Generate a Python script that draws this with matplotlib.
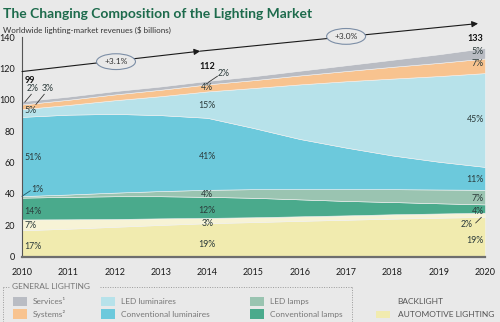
import matplotlib
matplotlib.use("Agg")
import matplotlib.pyplot as plt

plt.rcParams['font.family'] = ['Lato', 'DejaVu Sans']

# 연도별 세계 조명 시장 매출 (단위: 10억 달러)
years = [2010, 2011, 2012, 2013, 2014, 2015, 2016, 2017, 2018, 2019, 2020]
automotive = [16.8, 17.8, 19.0, 20.2, 21.3, 22.0, 22.8, 23.5, 24.2, 24.8, 25.3]
backlight = [6.9, 6.0, 5.0, 4.2, 3.4, 3.1, 2.9, 2.8, 2.8, 2.7, 2.7]
conv_lamps = [13.9, 14.3, 14.5, 14.1, 13.4, 12.4, 10.8, 9.2, 7.8, 6.5, 5.3]
led_lamps = [1.0, 1.5, 2.3, 3.3, 4.5, 5.5, 6.5, 7.5, 8.2, 8.8, 9.3]
conv_lum = [50.5, 50.9, 50.2, 48.4, 45.9, 39.0, 32.0, 26.5, 21.5, 17.7, 14.6]
led_lum = [4.9, 6.2, 8.7, 12.1, 16.8, 25.5, 34.8, 42.3, 49.0, 54.6, 59.8]
systems = [3.0, 3.3, 3.7, 4.1, 4.5, 5.0, 5.7, 6.5, 7.5, 8.4, 9.3]
services = [2.0, 2.0, 2.1, 2.1, 2.2, 2.5, 3.0, 3.7, 4.5, 5.5, 6.7]

# 라벨이 붙는 연도의 총액과 비중(%)
label_years = [2010, 2014, 2020]
totals = [99, 112, 133]
pct_services = [2, 2, 5]
pct_systems = [3, 4, 7]
pct_led_lum = [5, 15, 45]
pct_conv_lum = [51, 41, 11]
pct_led_lamps = [1, 4, 7]
pct_conv_lamps = [14, 12, 4]
pct_backlight = [7, 3, 2]
pct_automotive = [17, 19, 19]

growth_labels = ['+3.1%', '+3.0%']

colors = ['#f1ebaf', '#f7f3d6', '#4aaa8c', '#9ac4b1',
          '#6cc9dc', '#b7e2ea', '#f8c38f', '#b9bcc3']
bg = '#e9e9e9'
txt = '#2b3a3a'

fig = plt.figure(figsize=(5.0, 3.22), dpi=100, facecolor=bg)
ax = fig.add_axes([0.044, 0.203, 0.926, 0.682], facecolor=bg)

ax.stackplot(years, automotive, backlight, conv_lamps, led_lamps,
             conv_lum, led_lum, systems, services,
             colors=colors, edgecolor='#f2f2f2', linewidth=0.4)

ax.set_xlim(2010, 2020)
ax.set_ylim(0, 140)
ax.set_xticks(years)
ax.set_yticks([0, 20, 40, 60, 80, 100, 120, 140])
ax.tick_params(length=0, labelsize=6.5, colors='#1a1a1a')
ax.tick_params(axis='x', pad=8)
ax.tick_params(axis='y', pad=5)
for s in ['top', 'right']:
    ax.spines[s].set_visible(False)
ax.spines['left'].set_color('#555555')
ax.spines['left'].set_linewidth(0.8)
ax.spines['bottom'].set_color('#6e6e6e')
ax.spines['bottom'].set_linewidth(1.6)

fs = 6.3
# 2010 라벨 (왼쪽 정렬)
x0 = 2010.05
ax.text(x0, 112, f'{totals[0]}', fontsize=6.5, fontweight='bold', color='#111', ha='left', va='center')
ax.text(2010.24, 107, f'{pct_services[0]}%', fontsize=fs, color=txt, ha='center', va='center')
ax.text(2010.55, 107.5, f'{pct_systems[0]}%', fontsize=fs, color=txt, ha='center', va='center')
ax.plot([2010.06, 2010.2], [98.5, 103.5], color='#333', lw=0.6, clip_on=False)
ax.plot([2010.3, 2010.48], [97.0, 103.5], color='#333', lw=0.6, clip_on=False)
ax.text(x0, 93, f'{pct_led_lum[0]}%', fontsize=fs, color=txt, ha='left', va='center')
ax.text(x0, 63, f'{pct_conv_lum[0]}%', fontsize=fs, color=txt, ha='left', va='center')
ax.text(2010.2, 43, f'{pct_led_lamps[0]}%', fontsize=fs, color=txt, ha='left', va='center')
ax.plot([2010.0, 2010.18], [38.5, 42], color='#1c5a66', lw=0.6, clip_on=False)
ax.text(x0, 28.6, f'{pct_conv_lamps[0]}%', fontsize=fs, color=txt, ha='left', va='center')
ax.text(x0, 19.7, f'{pct_backlight[0]}%', fontsize=fs, color=txt, ha='left', va='center')
ax.text(x0, 6.3, f'{pct_automotive[0]}%', fontsize=fs, color=txt, ha='left', va='center')

# 2014 라벨 (가운데 정렬)
x1 = 2014.0
ax.text(x1, 121, f'{totals[1]}', fontsize=6.5, fontweight='bold', color='#111', ha='center', va='center')
ax.text(2014.36, 116.6, f'{pct_services[1]}%', fontsize=fs, color=txt, ha='center', va='center')
ax.plot([2014.02, 2014.22], [111, 115], color='#333', lw=0.6)
ax.text(x1, 107.7, f'{pct_systems[1]}%', fontsize=fs, color=txt, ha='center', va='center')
ax.text(x1, 96.4, f'{pct_led_lum[1]}%', fontsize=fs, color=txt, ha='center', va='center')
ax.text(x1, 63.8, f'{pct_conv_lum[1]}%', fontsize=fs, color=txt, ha='center', va='center')
ax.text(x1, 39.3, f'{pct_led_lamps[1]}%', fontsize=fs, color=txt, ha='center', va='center')
ax.text(x1, 29.3, f'{pct_conv_lamps[1]}%', fontsize=fs, color=txt, ha='center', va='center')
ax.text(x1, 21.2, f'{pct_backlight[1]}%', fontsize=fs, color=txt, ha='center', va='center')
ax.text(x1, 8.0, f'{pct_automotive[1]}%', fontsize=fs, color=txt, ha='center', va='center')

# 2020 라벨 (오른쪽 정렬)
x2 = 2019.97
ax.text(x2, 138.8, f'{totals[2]}', fontsize=6.5, fontweight='bold', color='#111', ha='right', va='center', clip_on=False)
ax.text(x2, 130.9, f'{pct_services[2]}%', fontsize=fs, color=txt, ha='right', va='center')
ax.text(x2, 123.4, f'{pct_systems[2]}%', fontsize=fs, color=txt, ha='right', va='center')
ax.text(x2, 87.7, f'{pct_led_lum[2]}%', fontsize=fs, color=txt, ha='right', va='center')
ax.text(x2, 48.9, f'{pct_conv_lum[2]}%', fontsize=fs, color=txt, ha='right', va='center')
ax.text(x2, 37.2, f'{pct_led_lamps[2]}%', fontsize=fs, color=txt, ha='right', va='center')
ax.text(x2, 29.0, f'{pct_conv_lamps[2]}%', fontsize=fs, color=txt, ha='right', va='center')
ax.text(2019.6, 20.8, f'{pct_backlight[2]}%', fontsize=fs, color=txt, ha='center', va='center')
ax.plot([2019.8, 2019.92], [21.5, 25.0], color='#333', lw=0.6)
ax.text(x2, 10.1, f'{pct_automotive[2]}%', fontsize=fs, color=txt, ha='right', va='center')

# 성장률 화살표
arrow = dict(arrowstyle='-|>', color='#1a1a1a', lw=0.8, mutation_scale=9,
             shrinkA=0, shrinkB=0)
ax.annotate('', xy=(2013.85, 131), xytext=(2010, 118), arrowprops=arrow,
            annotation_clip=False)
ax.annotate('', xy=(2019.85, 148.6), xytext=(2013.85, 131), arrowprops=arrow,
            annotation_clip=False)
ell = dict(boxstyle='ellipse,pad=0.25', fc=bg, ec='#7c8ea6', lw=0.8)
ax.text(2012.03, 124.3, growth_labels[0], fontsize=6, color='#333', ha='center',
        va='center', bbox=ell, zorder=5)
ax.text(2017.0, 140.4, growth_labels[1], fontsize=6, color='#333', ha='center',
        va='center', bbox=ell, zorder=5, clip_on=False)

# 제목
fig.text(0.006, 0.955, 'The Changing Composition of the Lighting Market',
         fontsize=10, fontweight='bold', color='#1d6b4c', ha='left', va='center')
fig.text(0.006, 0.905, 'Worldwide lighting-market revenues ($ billions)',
         fontsize=5.8, color='#333', ha='left', va='center')

# 범례
leg_x = 0.006
border = dict(color='#9a9a9a', lw=0.7, linestyle=(0, (1, 1.5)))
fig.add_artist(plt.Line2D([leg_x, 0.02], [0.109, 0.109], **border))
fig.add_artist(plt.Line2D([0.2, 0.704], [0.109, 0.109], **border))
fig.add_artist(plt.Line2D([leg_x, leg_x], [0.109, 0.0], **border))
fig.add_artist(plt.Line2D([0.704, 0.704], [0.109, 0.0], **border))
fig.text(0.024, 0.109, 'GENERAL LIGHTING', fontsize=6, color='#777',
         ha='left', va='center')

legend_items = [
    ('Services¹', colors[7], 0.026, 0.063),
    ('Systems²', colors[6], 0.026, 0.024),
    ('LED luminaires', colors[5], 0.202, 0.063),
    ('Conventional luminaires', colors[4], 0.202, 0.024),
    ('LED lamps', colors[3], 0.5, 0.063),
    ('Conventional lamps', colors[2], 0.5, 0.024),
]
for name, c, lx, ly in legend_items:
    fig.add_artist(plt.Rectangle((lx, ly - 0.014), 0.027, 0.03, fc=c, ec='none'))
    fig.text(lx + 0.04, ly, name, fontsize=6, color='#777', ha='left', va='center')

# 백라이트 / 자동차 조명 범례
fig.text(0.795, 0.065, 'BACKLIGHT', fontsize=6, color='#555', ha='left', va='center')
fig.add_artist(plt.Rectangle((0.752, 0.012), 0.028, 0.022, fc=colors[0], ec='none'))
fig.text(0.795, 0.024, 'AUTOMOTIVE LIGHTING', fontsize=6, color='#555',
         ha='left', va='center')

fig.savefig('out.png', dpi=100, facecolor=bg)
